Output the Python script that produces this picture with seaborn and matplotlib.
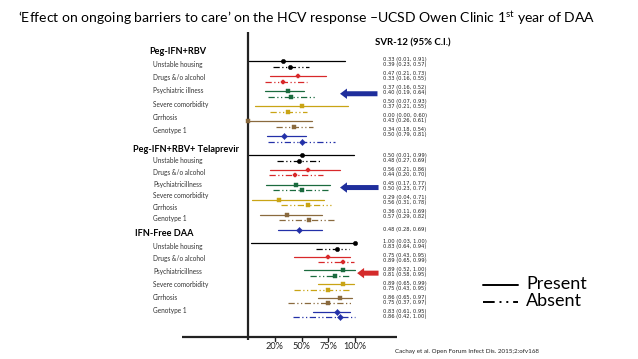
import numpy as np
import pandas as pd
import matplotlib
matplotlib.use("Agg")
import matplotlib.pyplot as plt
import seaborn as sns

# ---------------- data ----------------
groups = ["Peg-IFN+RBV", "Peg-IFN+RBV+ Telaprevir", "IFN-Free DAA"]
factors = [
    ["Unstable housing", "Drugs &/o alcohol", "Psychiatric illness",
     "Severe comorbidity", "Cirrhosis", "Genotype 1"],
    ["Unstable housing", "Drugs &/o alcohol", "Psychiatricillness",
     "Severe comorbidity", "Cirrhosis", "Genotype 1"],
    ["Unstable housing", "Drugs &/o alcohol", "Psychiatricillness",
     "Severe comorbidity", "Cirrhosis", "Genotype 1"],
]

peg_present_est = [0.33, 0.47, 0.37, 0.50, 0.00, 0.34]
peg_present_lo = [0.01, 0.21, 0.16, 0.07, 0.00, 0.18]
peg_present_hi = [0.91, 0.73, 0.52, 0.93, 0.60, 0.54]
peg_absent_est = [0.39, 0.33, 0.40, 0.37, 0.43, 0.50]
peg_absent_lo = [0.23, 0.16, 0.19, 0.21, 0.26, 0.19]
peg_absent_hi = [0.57, 0.55, 0.64, 0.55, 0.61, 0.81]
peg_present_txt = ["0.33 (0.01, 0.91)", "0.47 (0.21, 0.73)", "0.37 (0.16, 0.52)",
                   "0.50 (0.07, 0.93)", "0.00 (0.00, 0.60)", "0.34 (0.18, 0.54)"]
peg_absent_txt = ["0.39 (0.23, 0.57)", "0.33 (0.16, 0.55)", "0.40 (0.19, 0.64)",
                  "0.37 (0.21, 0.55)", "0.43 (0.26, 0.61)", "0.50 (0.79, 0.81)"]

tel_present_est = [0.50, 0.56, 0.45, 0.29, 0.36, 0.48]
tel_present_lo = [0.01, 0.21, 0.17, 0.04, 0.11, 0.28]
tel_present_hi = [0.99, 0.86, 0.77, 0.71, 0.69, 0.69]
tel_absent_est = [0.48, 0.44, 0.50, 0.56, 0.57, None]
tel_absent_lo = [0.27, 0.20, 0.23, 0.31, 0.29, None]
tel_absent_hi = [0.69, 0.70, 0.77, 0.78, 0.82, None]
tel_present_txt = ["0.50 (0.01, 0.99)", "0.56 (0.21, 0.86)", "0.45 (0.17, 0.77)",
                   "0.29 (0.04, 0.71)", "0.36 (0.11, 0.69)", "0.48 (0.28, 0.69)"]
tel_absent_txt = ["0.48 (0.27, 0.69)", "0.44 (0.20, 0.70)", "0.50 (0.23, 0.77)",
                  "0.56 (0.31, 0.78)", "0.57 (0.29, 0.82)", None]

daa_present_est = [1.00, 0.75, 0.89, 0.89, 0.86, 0.83]
daa_present_lo = [0.03, 0.43, 0.52, 0.65, 0.65, 0.61]
daa_present_hi = [1.00, 0.95, 1.00, 0.99, 0.97, 0.95]
daa_absent_est = [0.83, 0.89, 0.81, 0.75, 0.75, 0.86]
daa_absent_lo = [0.64, 0.65, 0.58, 0.43, 0.37, 0.42]
daa_absent_hi = [0.94, 0.99, 0.95, 0.95, 0.97, 1.00]
daa_present_txt = ["1.00 (0.03, 1.00)", "0.75 (0.43, 0.95)", "0.89 (0.52, 1.00)",
                   "0.89 (0.65, 0.99)", "0.86 (0.65, 0.97)", "0.83 (0.61, 0.95)"]
daa_absent_txt = ["0.83 (0.64, 0.94)", "0.89 (0.65, 0.99)", "0.81 (0.58, 0.95)",
                  "0.75 (0.43, 0.95)", "0.75 (0.37, 0.97)", "0.86 (0.42, 1.00)"]

tick_values = [0.25, 0.50, 0.75, 1.00]
tick_labels = ["20%", "50%", "75%", "100%"]

factor_colors = ["#000000", "#d8282a", "#1b6b3f", "#c9a415", "#8a6a3e", "#2330a8"]
factor_markers = ["o", "P", "s", "s", "s", "D"]
arrow_colors = ["#1f2e9c", "#1f2e9c", "#d42a2a"]

# ---------------- long table ----------------
series = [
    (peg_present_est, peg_present_lo, peg_present_hi, peg_present_txt,
     peg_absent_est, peg_absent_lo, peg_absent_hi, peg_absent_txt),
    (tel_present_est, tel_present_lo, tel_present_hi, tel_present_txt,
     tel_absent_est, tel_absent_lo, tel_absent_hi, tel_absent_txt),
    (daa_present_est, daa_present_lo, daa_present_hi, daa_present_txt,
     daa_absent_est, daa_absent_lo, daa_absent_hi, daa_absent_txt),
]
rows = []
for gi, s in enumerate(series):
    pe, pl, ph, pt, ae, al, ah, at = s
    for fi in range(len(pe)):
        rows.append(dict(gi=gi, fi=fi, status="Present", est=pe[fi], lo=pl[fi], hi=ph[fi], txt=pt[fi]))
        if ae[fi] is not None:
            rows.append(dict(gi=gi, fi=fi, status="Absent", est=ae[fi], lo=al[fi], hi=ah[fi], txt=at[fi]))
df = pd.DataFrame(rows)

# ---------------- layout (pixel rows) ----------------
W, H = 638, 359
X0, XU = 248, 107.0          # pixel of 0 and pixels per unit
def px(p):
    return (p - X0) / XU

group_start = [61, 155, 243]
group_step = [15.0, 14.9, 13.7]
label_start = [64, 161, 246]
label_step = [13.4, 11.6, 12.8]
text_start = [59.5, 156, 242]
text_step = [14.0, 14.0, 14.0]
heading_y = [52, 150, 234]
heading_x = [149, 133, 135]
pair_gap = 5.5

df["row_y"] = [group_start[g] + group_step[g] * f for g, f in zip(df.gi, df.fi)]
df["y"] = df.row_y + np.where(df.status == "Absent", pair_gap, 0.0)
df["color"] = [factor_colors[f] for f in df.fi]

sns.set_theme(style="white")
plt.rcParams['font.family'] = ['Lato', 'DejaVu Sans']
plt.rcParams['mathtext.fontset'] = 'custom'
plt.rcParams['mathtext.rm'] = 'Lato'
plt.rcParams['mathtext.it'] = 'Lato:italic'
plt.rcParams['mathtext.bf'] = 'Lato:bold'

fig = plt.figure(figsize=(W / 100, H / 100), dpi=100)
ax = fig.add_axes([0, 0, 1, 1])

# CI lines
dashdot = (0, (5, 2, 1, 2, 1, 2))
for _, r in df.iterrows():
    ax.plot([r.lo, r.hi], [r.y, r.y], color=r.color, lw=0.9,
            linestyle="-" if r.status == "Present" else dashdot, zorder=2)

# points through seaborn
for fi in range(len(factor_colors)):
    sub = df[df.fi == fi]
    sns.scatterplot(data=sub, x="est", y="y", ax=ax, color=factor_colors[fi],
                    marker=factor_markers[fi], s=10, edgecolor=factor_colors[fi],
                    linewidth=0.3, legend=False, zorder=3)
ax.set_xlim(px(0), px(W))
ax.set_ylim(H, 0)
ax.axis("off")

# value text column
for _, r in df.iterrows():
    ty = text_start[r.gi] + text_step[r.gi] * r.fi + (4.6 if r.status == "Absent" else 0)
    if r.gi == 1 and r.fi == 5:
        ty += 4
    ax.text(px(383), ty, r.txt, fontsize=3.7, family=["DejaVu Sans"], color="#222222",
            va="center", ha="left")

# factor labels and group headings
for gi in range(3):
    for fi, lab in enumerate(factors[gi]):
        y = label_start[gi] + label_step[gi] * fi
        ax.text(px(153), y, lab, fontsize=4.7, color="#333333", va="center", ha="left")
    ax.text(px(heading_x[gi]), heading_y[gi], groups[gi], fontsize=6.6,
            fontweight="bold", color="black", va="center", ha="left")

# arrows at psychiatric illness rows
arrow_x = [(0.86, 1.21), (0.86, 1.22), (1.02, 1.22)]
for gi in range(3):
    y = group_start[gi] + group_step[gi] * 2 + pair_gap / 2
    x_head, x_tail = arrow_x[gi]
    ax.annotate("", xy=(x_head, y), xytext=(x_tail, y),
                arrowprops=dict(arrowstyle="simple,head_length=0.5,head_width=0.75,tail_width=0.36",
                                mutation_scale=10, color=arrow_colors[gi], shrinkA=0, shrinkB=0,
                                lw=0), zorder=4)

# axes lines
ax.plot([0, 0], [32, 340], color="#222222", lw=1.6, solid_capstyle="butt", zorder=1)
ax.plot([px(182), px(397)], [337, 337], color="#222222", lw=1.6, solid_capstyle="butt", zorder=1)
for tv, tl in zip(tick_values, tick_labels):
    ax.plot([tv, tv], [337, 341], color="#222222", lw=1.0)
    ax.text(tv, 346.5, tl, fontsize=6.6, ha="center", va="center", color="#222222")

# header texts
ax.text(px(375), 43, "SVR-12 (95% C.I.)", fontsize=6.9, fontweight="bold",
        va="center", ha="left", color="black")
fig.text(18 / W, 1 - 18 / H,
         "\u2018Effect on ongoing barriers to care\u2019 on the HCV response \u2013UCSD Owen Clinic 1$^{\\mathrm{st}}$ year of DAA",
         fontsize=10.1, va="center", ha="left", color="black")

# legend
ax.plot([px(483), px(518)], [285, 285], color="black", lw=1.4)
ax.plot([px(483), px(518)], [302, 302], color="black", lw=1.4, linestyle=(0, (6, 2.5, 1, 2.5, 1, 2.5)))
ax.text(px(526), 284, "Present", fontsize=13, va="center", ha="left", color="black")
ax.text(px(526), 301, "Absent", fontsize=13, va="center", ha="left", color="black")

ax.text(px(395), 351, "Cachay et al. Open Forum Infect Dis. 2015;2:ofv168",
        fontsize=4.5, va="center", ha="left", color="#222222")

fig.savefig("out.png", dpi=100)
